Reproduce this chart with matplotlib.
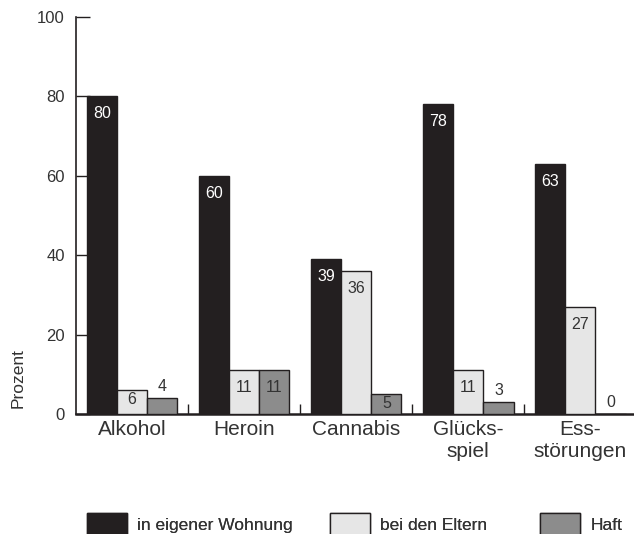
import matplotlib
matplotlib.use("Agg")
import matplotlib.pyplot as plt
import numpy as np
from matplotlib.patches import Patch

plt.rcParams["font.family"] = ["Liberation Sans", "DejaVu Sans"]
TXT = "#333333"
EDGE = "#231f20"

# ---- data ----
categories = ["Alkohol", "Heroin", "Cannabis", "Glücks-\nspiel", "Ess-\nstörungen"]
series_names = ["in eigener Wohnung", "bei den Eltern", "Haft"]
wohnung = [80, 60, 39, 78, 63]
eltern = [6, 11, 36, 11, 27]
haft = [4, 11, 5, 3, 0]
yticks = [0, 20, 40, 60, 80, 100]

colors = ["#231f20", "#e6e6e6", "#8c8c8c"]
label_colors = ["white", TXT, TXT]

fig = plt.figure(figsize=(6.34, 5.34), dpi=100)
ax = fig.add_axes([76 / 634, 120 / 534, 1 - 76 / 634, 397 / 534])

x = np.arange(len(categories))
w = 0.27
handles = []
for i, (vals, col) in enumerate(zip([wohnung, eltern, haft], colors)):
    pos = x + (i - 1) * w
    ax.bar(pos, vals, w, color=col, edgecolor=EDGE, linewidth=1.0, zorder=3)
    handles.append(Patch(facecolor=col, edgecolor=EDGE, linewidth=1.0))
    for xp, v in zip(pos, vals):
        if v >= 10:
            ax.annotate(str(v), (xp, v), xytext=(0, -7), textcoords="offset points",
                        ha="center", va="top", fontsize=11.5, color=label_colors[i], zorder=4)
        elif v >= 5:
            ax.annotate(str(v), (xp, v), xytext=(0, -1), textcoords="offset points",
                        ha="center", va="top", fontsize=11.5, color=label_colors[i], zorder=4)
        else:
            ax.annotate(str(v), (xp, v), xytext=(0, 3), textcoords="offset points",
                        ha="center", va="bottom", fontsize=11.5, color=TXT, zorder=4)

ax.set_xlim(-0.5, 4.48)
ax.set_ylim(0, 100)
ax.spines["top"].set_visible(False)
ax.spines["right"].set_visible(False)
ax.spines["left"].set_color(EDGE)
ax.spines["left"].set_linewidth(1.2)
ax.spines["bottom"].set_color(EDGE)
ax.spines["bottom"].set_linewidth(1.8)

ax.set_yticks(yticks)
ax.tick_params(axis="y", direction="in", length=10, width=1.0, color=EDGE,
               labelsize=12, labelcolor=TXT, pad=8)
ax.set_xticks(x)
ax.set_xticklabels(categories, fontsize=15, color=TXT, linespacing=1.25)
ax.tick_params(axis="x", which="major", length=0, pad=4)
ax.set_xticks(x[:-1] + 0.5, minor=True)
ax.tick_params(axis="x", which="minor", direction="in", length=7, width=1.0, color=EDGE)

fig.text(18 / 634, 1 - 378 / 534, "Prozent", rotation=90, ha="center", va="center",
         fontsize=12.5, color=TXT)

# legend entries placed individually like the original
leg_x = [87 / 634, 330 / 634, 540 / 634]
for h, name, lx in zip(handles, series_names, leg_x):
    leg = fig.legend([h], [name], loc="upper left", bbox_to_anchor=(lx, 1 - 513 / 534),
                     frameon=False, fontsize=12.5, handlelength=2.3, handleheight=1.6,
                     handletextpad=0.6, borderpad=0, borderaxespad=0, labelcolor=TXT)
    fig.add_artist(leg)

fig.savefig("out.png", dpi=100)
